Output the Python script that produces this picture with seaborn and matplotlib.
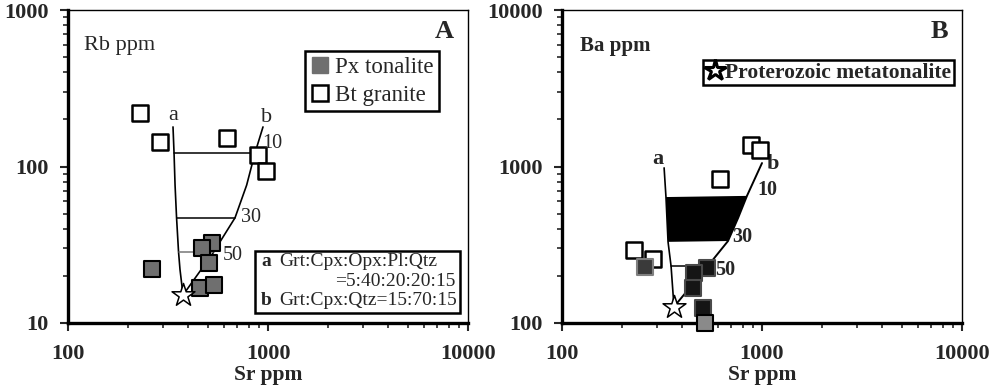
import matplotlib
matplotlib.use("Agg")
import matplotlib.pyplot as plt
import seaborn as sns
import pandas as pd
from matplotlib.lines import Line2D
from matplotlib.patches import Rectangle
from matplotlib.ticker import LogLocator, NullFormatter, FuncFormatter

# ---------------- data: panel A (Rb vs Sr) ----------------
a_px_sr = [263, 525, 468, 507, 457, 537]
a_px_rb = [22, 32.5, 30, 24.2, 16.7, 17.5]
a_bt_sr = [229, 288, 624, 891, 977]
a_bt_rb = [220, 143, 152, 118, 94]
a_star_sr = [376]
a_star_rb = [15.1]
a_curve_a_sr = [376, 363, 357, 349, 343, 339, 335]
a_curve_a_rb = [15.1, 22, 28.5, 47, 76, 122, 179]
a_curve_b_sr = [376, 531, 684, 782, 861, 944]
a_curve_b_rb = [15.1, 28, 47, 76, 122, 179]
a_tie_rb = [122, 47, 28.5]
a_tie_sr_left = [339, 349, 357]
a_tie_sr_right = [861, 684, 531]
a_tie_labels = ["10", "30", "50"]
a_tie_label_sr = [1050, 822, 668]
a_tie_label_rb = [141, 47.5, 26.8]

# ---------------- data: panel B (Ba vs Sr) ----------------
b_dark_sr = [531, 457, 452, 507]
b_dark_ba = [224, 208, 168, 125]
b_dgray_sr = [260]
b_dgray_ba = [228]
b_mgray_sr = [519]
b_mgray_ba = [100]
b_bt_sr = [881, 977, 617, 229, 285]
b_bt_ba = [1371, 1273, 832, 293, 256]
b_star_sr = [363]
b_star_ba = [127]
b_curve_a_sr = [363, 351, 339, 331, 324]
b_curve_a_ba = [127, 231, 330, 638, 980]
b_curve_b_sr = [363, 556, 676, 760, 841, 1000]
b_curve_b_ba = [127, 245, 334, 470, 649, 1052]
b_fill_sr = [331, 841, 760, 676, 339]
b_fill_ba = [638, 649, 470, 334, 330]
b_tie_ba = [233]
b_tie_sr_left = [351]
b_tie_sr_right = [556]
b_tie_labels = ["10", "30", "50"]
b_tie_label_sr = [1062, 794, 655]
b_tie_label_ba = [708, 355, 218]

sns.set_style("white")
plt.rcParams['font.family'] = ['Liberation Serif', 'DejaVu Serif']

W, H = 989, 387
fig = plt.figure(figsize=(W / 100, H / 100), dpi=100)
axA = fig.add_axes([68 / W, 1 - 323 / H, 400 / W, 313 / H])
axB = fig.add_axes([562 / W, 1 - 323 / H, 400 / W, 313 / H])

SQ = 135
EDGE = 1.5

def style_axis(ax, ymin, ymax):
    ax.set_xscale('log')
    ax.set_yscale('log')
    ax.set_xlim(100, 10000)
    ax.set_ylim(ymin, ymax)
    for s in ['left', 'bottom']:
        ax.spines[s].set_linewidth(2.4)
        ax.spines[s].set_color('black')
    for s in ['top', 'right']:
        ax.spines[s].set_linewidth(1.0)
        ax.spines[s].set_color('black')
    ax.xaxis.set_major_locator(LogLocator(base=10))
    ax.yaxis.set_major_locator(LogLocator(base=10))
    ax.xaxis.set_minor_locator(LogLocator(base=10, subs=range(2, 10)))
    ax.yaxis.set_minor_locator(LogLocator(base=10, subs=range(2, 10)))
    fmt = FuncFormatter(lambda v, p: f"{int(round(v))}")
    ax.xaxis.set_major_formatter(fmt)
    ax.yaxis.set_major_formatter(fmt)
    ax.xaxis.set_minor_formatter(NullFormatter())
    ax.yaxis.set_minor_formatter(NullFormatter())
    ax.tick_params(which='major', direction='out', length=6, width=1.5, labelsize=16,
                   bottom=True, left=True, top=False, right=False)
    ax.tick_params(axis='x', which='major', pad=9)
    ax.tick_params(axis='y', which='major', pad=8)
    ax.tick_params(which='minor', direction='out', length=3.5, width=1.2,
                   bottom=True, left=True, top=False, right=False)
    for lab in ax.get_xticklabels() + ax.get_yticklabels():
        lab.set_fontweight('bold')
    ax.set_xlabel("Sr ppm", fontsize=15.5, fontweight='bold', labelpad=1)
    ax.set_ylabel("")
    ax.grid(False)

# ---------------- Panel A ----------------
ax = axA
ax.plot(a_curve_a_sr, a_curve_a_rb, color='black', lw=1.2, zorder=2)
ax.plot(a_curve_b_sr, a_curve_b_rb, color='black', lw=1.2, zorder=2)
for i, (y, x0, x1) in enumerate(zip(a_tie_rb, a_tie_sr_left, a_tie_sr_right)):
    ax.plot([x0, x1], [y, y], color='black' if i < 2 else '#777777', lw=1.1, zorder=2)
for t, x, y in zip(a_tie_labels, a_tie_label_sr, a_tie_label_rb):
    ax.text(x, y, t, fontsize=14.5, ha='center', va='center', zorder=5)
ax.text(336, 213, "a", fontsize=16, ha='center', va='center')
ax.text(988, 207, "b", fontsize=16, ha='center', va='center')

dfA_px = pd.DataFrame({"Sr": a_px_sr, "Rb": a_px_rb})
dfA_bt = pd.DataFrame({"Sr": a_bt_sr, "Rb": a_bt_rb})
sns.scatterplot(data=dfA_px, x="Sr", y="Rb", marker='s', s=SQ, color='#6f6f6f',
                edgecolor='black', linewidth=EDGE, ax=ax, zorder=4, legend=False)
sns.scatterplot(data=dfA_bt, x="Sr", y="Rb", marker='s', s=SQ, color='white',
                edgecolor='black', linewidth=EDGE + 0.3, ax=ax, zorder=4, legend=False)
ax.scatter(a_star_sr, a_star_rb, marker='*', s=300, facecolor='white',
           edgecolor='black', linewidth=1.1, zorder=6)
style_axis(ax, 10, 1000)

ax.text(0.04, 0.885, "Rb ppm", transform=ax.transAxes, fontsize=16, ha='left', va='center')
ax.text(0.965, 0.93, "A", transform=ax.transAxes, fontsize=19, fontweight='bold',
        ha='right', va='center')

hA = [Line2D([], [], marker='s', ls='none', markersize=12, markerfacecolor='#6f6f6f',
             markeredgecolor='#6f6f6f', markeredgewidth=1),
      Line2D([], [], marker='s', ls='none', markersize=12, markerfacecolor='white',
             markeredgecolor='black', markeredgewidth=1.8)]
legA = ax.legend(hA, ["Px tonalite", "Bt granite"], loc='upper right',
                 bbox_to_anchor=(0.9275, 0.869), frameon=True, fancybox=False,
                 framealpha=1, edgecolor='black', fontsize=16.5, handlelength=0.8,
                 handletextpad=0.25, borderpad=0.25, labelspacing=0.3, borderaxespad=0)
legA.get_frame().set_linewidth(1.8)

# composition box
ax.add_patch(Rectangle((0.4675, 0.032), 0.5125, 0.198, transform=ax.transAxes,
                       fill=True, facecolor='white', edgecolor='black', lw=1.8, zorder=7))
FS = 14
ax.text(0.4825, 0.195, "a", transform=ax.transAxes, fontsize=FS, fontweight='bold',
        ha='left', va='center', zorder=8)
ax.text(0.5275, 0.195, "Grt:Cpx:Opx:Pl:Qtz", transform=ax.transAxes, fontsize=FS,
        ha='left', va='center', zorder=8)
ax.text(0.968, 0.133, "=5:40:20:20:15", transform=ax.transAxes, fontsize=FS,
        ha='right', va='center', zorder=8)
ax.text(0.4825, 0.073, "b", transform=ax.transAxes, fontsize=FS, fontweight='bold',
        ha='left', va='center', zorder=8)
ax.text(0.5275, 0.073, "Grt:Cpx:Qtz=15:70:15", transform=ax.transAxes, fontsize=FS,
        ha='left', va='center', zorder=8)

# ---------------- Panel B ----------------
ax = axB
ax.fill(b_fill_sr, b_fill_ba, color='black', lw=0, zorder=1)
ax.plot(b_curve_a_sr, b_curve_a_ba, color='black', lw=1.2, zorder=2)
ax.plot(b_curve_b_sr, b_curve_b_ba, color='black', lw=1.4, zorder=2)
for y, x0, x1 in zip(b_tie_ba, b_tie_sr_left, b_tie_sr_right):
    ax.plot([x0, x1], [y, y], color='black', lw=1.1, zorder=2)
for t, x, y in zip(b_tie_labels, b_tie_label_sr, b_tie_label_ba):
    ax.text(x, y, t, fontsize=14.5, fontweight='bold', ha='center', va='center', zorder=5)
ax.text(302, 1117, "a", fontsize=16, fontweight='bold', ha='center', va='center')
ax.text(1135, 1038, "b", fontsize=16, fontweight='bold', ha='center', va='center')

dfB_bt = pd.DataFrame({"Sr": b_bt_sr, "Ba": b_bt_ba})
dfB_dark = pd.DataFrame({"Sr": b_dark_sr, "Ba": b_dark_ba})
dfB_dgray = pd.DataFrame({"Sr": b_dgray_sr, "Ba": b_dgray_ba})
dfB_mgray = pd.DataFrame({"Sr": b_mgray_sr, "Ba": b_mgray_ba})
sns.scatterplot(data=dfB_bt, x="Sr", y="Ba", marker='s', s=SQ, color='white',
                edgecolor='black', linewidth=EDGE + 0.3, ax=ax, zorder=4, legend=False)
sns.scatterplot(data=dfB_dgray, x="Sr", y="Ba", marker='s', s=SQ, color='#3a3a3a',
                edgecolor='#808080', linewidth=EDGE, ax=ax, zorder=4, legend=False)
sns.scatterplot(data=dfB_dark, x="Sr", y="Ba", marker='s', s=SQ, color='#151515',
                edgecolor='#4a4a4a', linewidth=EDGE, ax=ax, zorder=4, legend=False)
sns.scatterplot(data=dfB_mgray, x="Sr", y="Ba", marker='s', s=SQ, color='#8a8a8a',
                edgecolor='black', linewidth=EDGE, ax=ax, zorder=6, legend=False,
                clip_on=False)
ax.scatter(b_star_sr, b_star_ba, marker='*', s=300, facecolor='white',
           edgecolor='black', linewidth=1.1, zorder=6)
style_axis(ax, 100, 10000)

ax.text(0.045, 0.885, "Ba ppm", transform=ax.transAxes, fontsize=15, fontweight='bold',
        ha='left', va='center')
ax.text(0.965, 0.93, "B", transform=ax.transAxes, fontsize=19, fontweight='bold',
        ha='right', va='center')
hB = [Line2D([], [], marker='*', ls='none', markersize=16, markerfacecolor='white',
             markeredgecolor='black', markeredgewidth=2.2)]
legB = ax.legend(hB, ["Proterozoic metatonalite"], loc='upper right',
                 bbox_to_anchor=(0.98, 0.84), frameon=True, fancybox=False,
                 framealpha=1, edgecolor='black', handlelength=0.8,
                 handletextpad=0.1, borderpad=0.12, borderaxespad=0,
                 prop={'weight': 'bold', 'size': 15.5})
legB.get_frame().set_linewidth(1.8)

fig.savefig("out.png", dpi=100)
